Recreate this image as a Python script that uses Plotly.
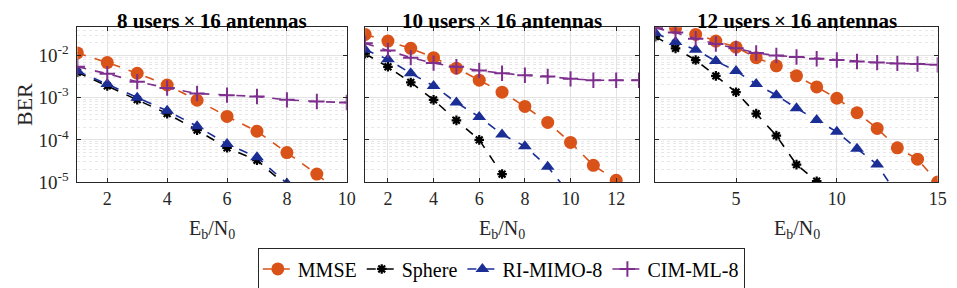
import plotly.graph_objects as go

# ---- data ----
titles = ["8 users\u2009\u00d7\u200916 antennas", "10 users\u2009\u00d7\u200916 antennas", "12 users\u2009\u00d7\u200916 antennas"]
series_names = ["MMSE", "Sphere", "RI-MIMO-8", "CIM-ML-8"]

x1 = [1, 2, 3, 4, 5, 6, 7, 8, 9, 10]
mmse1 = [0.0115, 0.0068, 0.0038, 0.0020, 0.00087, 0.00036, 0.00016, 5.0e-5, 1.55e-5, 4e-6]
sphere1 = [0.0040, 0.0019, 0.00090, 0.00042, 0.00017, 6.5e-5, 3.3e-5, 8e-6]
ri1 = [0.0043, 0.0021, 0.0010, 0.00049, 0.00021, 8.0e-5, 3.9e-5, 9.3e-6]
cim1 = [0.0054, 0.0037, 0.0024, 0.0017, 0.00126, 0.00115, 0.00107, 0.00089, 0.00081, 0.00077]

x2 = [1, 2, 3, 4, 5, 6, 7, 8, 9, 10, 11, 12, 13]
mmse2 = [0.0316, 0.022, 0.0148, 0.0089, 0.0050, 0.0026, 0.00135, 0.00062, 0.00026, 8.7e-5, 2.5e-5, 1.1e-5]
sphere2 = [0.011, 0.0054, 0.0023, 0.00089, 0.00029, 0.0001, 1.55e-5, 5e-6]
ri2 = [0.0137, 0.0081, 0.0038, 0.0019, 0.00077, 0.00035, 0.000135, 7.1e-5, 2.3e-5, 5e-6]
cim2 = [0.0194, 0.0132, 0.0089, 0.0066, 0.0054, 0.0044, 0.0038, 0.0034, 0.0032, 0.0028, 0.0026, 0.0026, 0.0026]

x3 = [1, 2, 3, 4, 5, 6, 7, 8, 9, 10, 11, 12, 13, 14, 15]
mmse3 = [0.06, 0.045, 0.0316, 0.022, 0.0158, 0.0089, 0.0057, 0.0033, 0.0018, 0.00097, 0.00044, 0.000187, 6.5e-5, 3.5e-5, 1.0e-5]
sphere3 = [0.028, 0.0148, 0.0078, 0.0033, 0.00135, 0.00042, 0.000126, 2.6e-5, 1.05e-5]
ri3 = [0.034, 0.021, 0.0137, 0.0074, 0.0043, 0.0021, 0.00115, 0.00056, 0.000295, 0.000155, 6.2e-5, 2.6e-5, 5e-6]
cim3 = [0.045, 0.035, 0.025, 0.0187, 0.0148, 0.0115, 0.0100, 0.0092, 0.0084, 0.0078, 0.0072, 0.0068, 0.0065, 0.0063, 0.0060]

xticks = [[2, 4, 6, 8, 10], [2, 4, 6, 8, 10, 12], [5, 10, 15]]
xranges = [[1, 10], [1, 13], [1, 15]]
yticks = [1e-5, 1e-4, 1e-3, 1e-2]
ytext = ["10<sup>-5</sup>", "10<sup>-4</sup>", "10<sup>-3</sup>", "10<sup>-2</sup>"]
yminor = [m * 10.0 ** e for e in (-5, -4, -3, -2) for m in range(2, 10)]

panels = [
    (x1, [mmse1, sphere1, ri1, cim1]),
    (x2, [mmse2, sphere2, ri2, cim2]),
    (x3, [mmse3, sphere3, ri3, cim3]),
]

# ---- styles ----
colors = ["#D95319", "#000000", "#1B2E96", "#7E2F8E"]
FONT = "Liberation Serif"
W, H = 957, 288
pix_x = [(70, 342), (360.5, 637), (653.5, 938.5)]
ytop, ybot = 20, 181

def marker_for(i, c):
    if i == 0:
        return dict(symbol="circle", size=13, color=c, line=dict(width=0))
    if i == 1:
        return dict(symbol="asterisk-open", size=8, color=c, line=dict(width=2.2, color=c))
    if i == 2:
        return dict(symbol="triangle-up", size=12, color=c, line=dict(width=0))
    return dict(symbol="cross-thin-open", size=11, color=c, line=dict(width=2, color=c))

fig = go.Figure()
for p, (xs, ys_list) in enumerate(panels):
    xa = "x" if p == 0 else f"x{p+1}"
    ya = "y" if p == 0 else f"y{p+1}"
    for i, ys in enumerate(ys_list):
        fig.add_trace(go.Scatter(
            x=xs[:len(ys)], y=ys, mode="lines+markers",
            name=series_names[i], legendgroup=series_names[i], showlegend=(p == 0),
            line=dict(color=colors[i], width=1.6, dash="dash"),
            marker=marker_for(i, colors[i]),
            xaxis=xa, yaxis=ya,
        ))

layout = dict(
    width=W, height=H, margin=dict(l=0, r=0, t=0, b=0),
    paper_bgcolor="white", plot_bgcolor="white",
    font=dict(family=FONT, size=16, color="#262626"),
    showlegend=True,
    legend=dict(orientation="h", x=498 / W, xanchor="center", y=1 - 250 / H, yanchor="top",
                bordercolor="#262626", borderwidth=1, bgcolor="white",
                font=dict(family=FONT, size=20, color="#000"),
                itemwidth=30, tracegroupgap=0),
)
annotations = []
for p in range(3):
    sfx = "" if p == 0 else str(p + 1)
    x0, x1p = pix_x[p]
    layout["xaxis" + sfx] = dict(
        domain=[x0 / W, x1p / W], range=xranges[p], anchor="y" + sfx,
        tickvals=xticks[p], ticks="inside", ticklen=4, tickcolor="#262626",
        showline=True, linecolor="#262626", linewidth=1, mirror="ticks",
        showgrid=True, gridcolor="#E3E3E3", gridwidth=1, zeroline=False,
        tickfont=dict(family=FONT, size=18, color="#262626"),
    )
    layout["yaxis" + sfx] = dict(
        domain=[1 - ybot / H, 1 - ytop / H], type="log", range=[-5, -1.33],
        anchor="x" + sfx, tickvals=yticks, ticktext=ytext, showticklabels=(p == 0),
        ticks="inside", ticklen=4, tickcolor="#262626", ticklabelstandoff=4,
        showline=True, linecolor="#262626", linewidth=1, mirror="ticks",
        showgrid=True, gridcolor="#E3E3E3", gridwidth=1, zeroline=False,
        minor=dict(tickvals=yminor, showgrid=True, gridcolor="#E8E8E8", griddash="dot", gridwidth=1, ticks=""),
        tickfont=dict(family=FONT, size=19, color="#262626"),
    )
    cx = (x0 + x1p) / 2 / W
    annotations.append(dict(text="<b>" + titles[p] + "</b>", x=cx, y=1, xref="paper", yref="paper",
                            showarrow=False, xanchor="center", yanchor="top", borderpad=0,
                            font=dict(family=FONT, size=21, color="#000")))
    annotations.append(dict(text="E<sub>b</sub>/N<sub>0</sub>", x=cx, y=1 - 230 / H, xref="paper", yref="paper",
                            showarrow=False, xanchor="center", yanchor="middle",
                            font=dict(family=FONT, size=20, color="#262626")))
annotations.append(dict(text="BER", x=16 / W, y=1 - 100 / H, xref="paper", yref="paper",
                        showarrow=False, textangle=-90, xanchor="center", yanchor="middle",
                        font=dict(family=FONT, size=22, color="#262626")))
layout["annotations"] = annotations
fig.update_layout(**layout)
fig.write_html("out.html")
